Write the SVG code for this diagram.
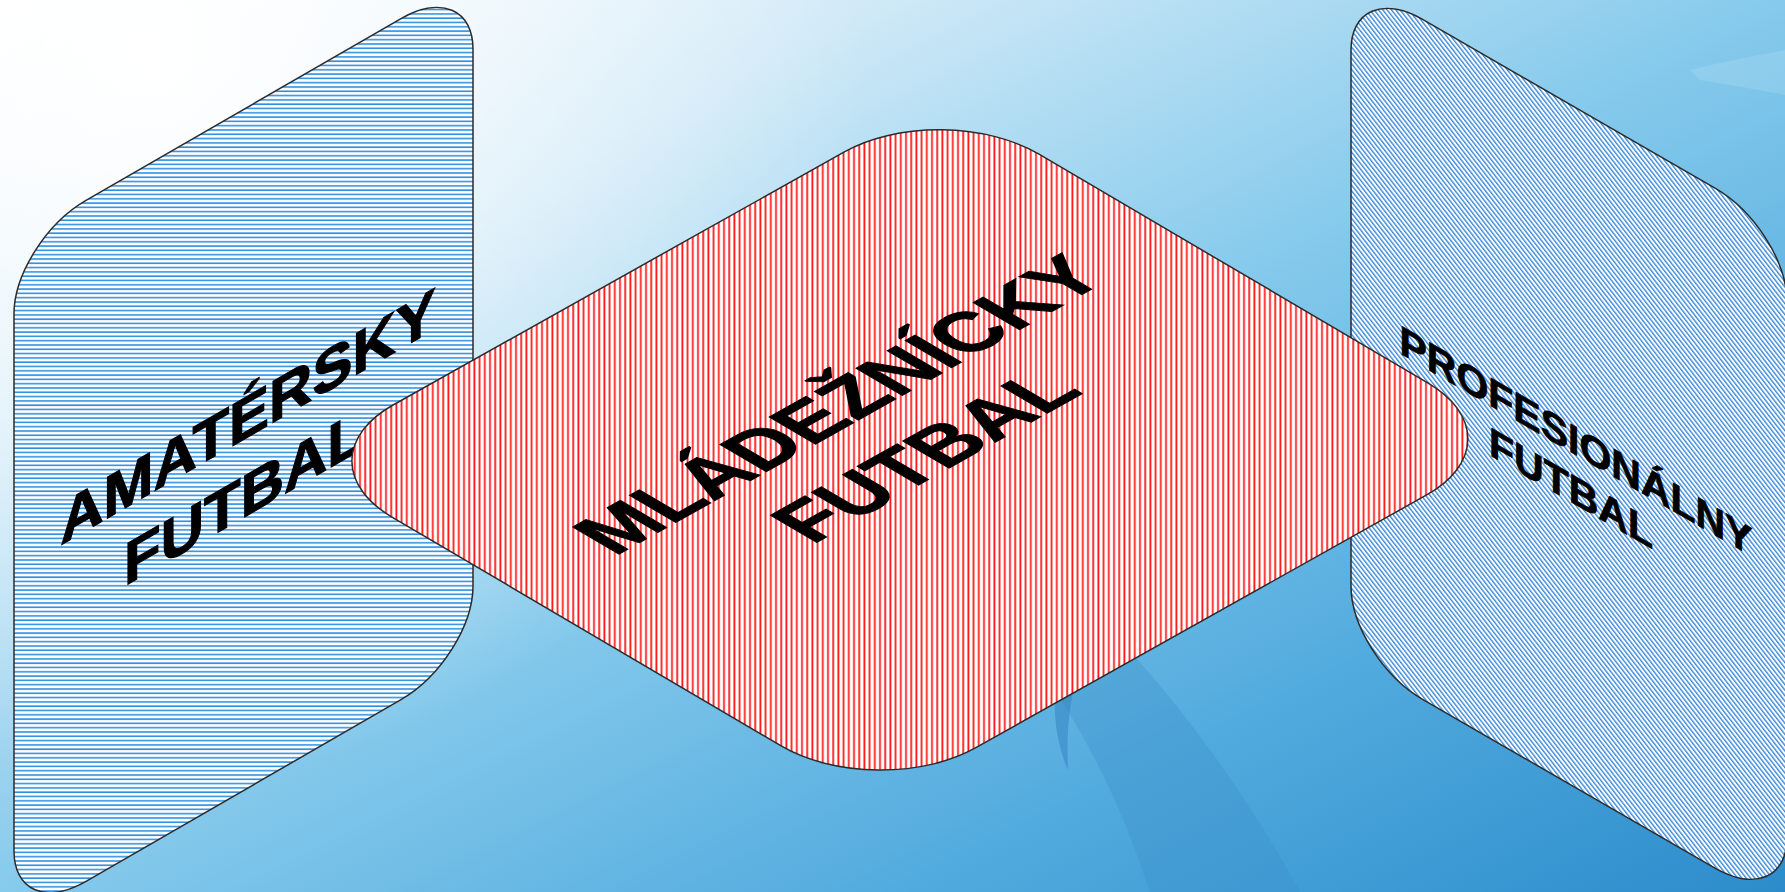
<svg xmlns="http://www.w3.org/2000/svg" width="1785" height="892" viewBox="0 0 1785 892">
<style>
.outline{fill:none;stroke:#2b2b2b;stroke-width:1.5;vector-effect:non-scaling-stroke}
.lbl{font-family:"Liberation Sans",Arial,sans-serif;font-weight:bold;fill:#000;text-anchor:middle;stroke:#000;stroke-width:1.2}
</style>
<defs>
<linearGradient id="bg" x1="0" y1="0" x2="1" y2="1">
<stop offset="0" stop-color="#ffffff"/>
<stop offset="0.25" stop-color="#cfe9f7"/>
<stop offset="0.5" stop-color="#86caec"/>
<stop offset="0.75" stop-color="#52abde"/>
<stop offset="1" stop-color="#2c8ccb"/>
</linearGradient>
<radialGradient id="glow" cx="150" cy="60" r="720" gradientUnits="userSpaceOnUse">
<stop offset="0" stop-color="#ffffff" stop-opacity="1"/>
<stop offset="0.4" stop-color="#ffffff" stop-opacity="0.55"/>
<stop offset="1" stop-color="#ffffff" stop-opacity="0"/>
</radialGradient>
<pattern id="pH" patternUnits="userSpaceOnUse" width="8" height="4.3">
<rect width="8" height="4.3" fill="#ffffff"/>
<line x1="0" y1="1" x2="8" y2="1" stroke="#2f8fe0" stroke-width="1.6"/>
</pattern>
<pattern id="pV" patternUnits="userSpaceOnUse" width="5.2" height="8">
<rect width="5.2" height="8" fill="#ffffff"/>
<line x1="1.2" y1="0" x2="1.2" y2="8" stroke="#ff1a1a" stroke-width="1.8"/>
</pattern>
<pattern id="pD" patternUnits="userSpaceOnUse" width="8" height="3.4" patternTransform="rotate(52)">
<rect width="8" height="3.4" fill="#ffffff"/>
<line x1="0" y1="1" x2="8" y2="1" stroke="#2a7fd6" stroke-width="1.3"/>
</pattern>
<clipPath id="cL"><rect transform="translate(14,242) skewY(-30)" x="0" y="0" width="459" height="681" rx="72" ry="72"/></clipPath>
<clipPath id="cR"><rect transform="translate(1351,-22) skewY(30)" x="0" y="0" width="436" height="680" rx="72" ry="72"/></clipPath>
<clipPath id="cM"><rect transform="matrix(0.872,-0.489,0.862,0.507,295,460)" x="0" y="0" width="742" height="676" rx="112" ry="112"/></clipPath>
</defs>

<g id="background">
<rect width="1785" height="892" fill="url(#bg)"/>
<rect width="1785" height="892" fill="url(#glow)"/>
<path d="M1020,640 C1080,720 1120,800 1150,892 L1300,892 C1250,800 1180,700 1100,620 Z" fill="#3d8ec8" opacity="0.35"/>
<path d="M1060,660 C1050,700 1055,740 1068,770 C1066,730 1070,700 1078,670 Z" fill="#2f7fbf" opacity="0.5"/>
<path d="M1690,70 C1730,60 1760,55 1785,50 L1785,95 C1760,90 1730,85 1700,80 Z" fill="#ffffff" opacity="0.12"/>
</g>

<g id="node-amatersky">
<rect x="0" y="0" width="1785" height="892" fill="url(#pH)" clip-path="url(#cL)"/>
<rect class="outline" transform="translate(14,242) skewY(-30)" x="0" y="0" width="459" height="681" rx="72" ry="72"/>
<g transform="translate(248,437) skewY(-30)">
<text class="lbl" x="0" y="0" font-size="60">AMATÉRSKY</text>
<text class="lbl" x="-4" y="78" font-size="60">FUTBAL</text>
</g>
</g>

<g id="node-profesionalny">
<rect x="0" y="0" width="1785" height="892" fill="url(#pD)" clip-path="url(#cR)"/>
<rect class="outline" transform="translate(1351,-22) skewY(30)" x="0" y="0" width="436" height="680" rx="72" ry="72"/>
<g transform="translate(1576,455) skewY(30)">
<text class="lbl" x="0" y="0" font-size="41" style="stroke-width:0.8">PROFESIONÁLNY</text>
<text class="lbl" x="-5" y="50" font-size="41" style="stroke-width:0.8">FUTBAL</text>
</g>
</g>

<g id="node-mladeznicky">
<rect x="0" y="0" width="1785" height="892" fill="url(#pV)" clip-path="url(#cM)"/>
<rect class="outline" transform="matrix(0.872,-0.489,0.862,0.507,295,460)" x="0" y="0" width="742" height="676" rx="112" ry="112"/>
<g transform="matrix(0.872,-0.489,0.862,0.507,862,418)">
<text class="lbl" x="0" y="0" font-size="78">MLÁDEŽNÍCKY</text>
<text class="lbl" x="0" y="100" font-size="78">FUTBAL</text>
</g>
</g>

<g id="connectors"></g>
</svg>
